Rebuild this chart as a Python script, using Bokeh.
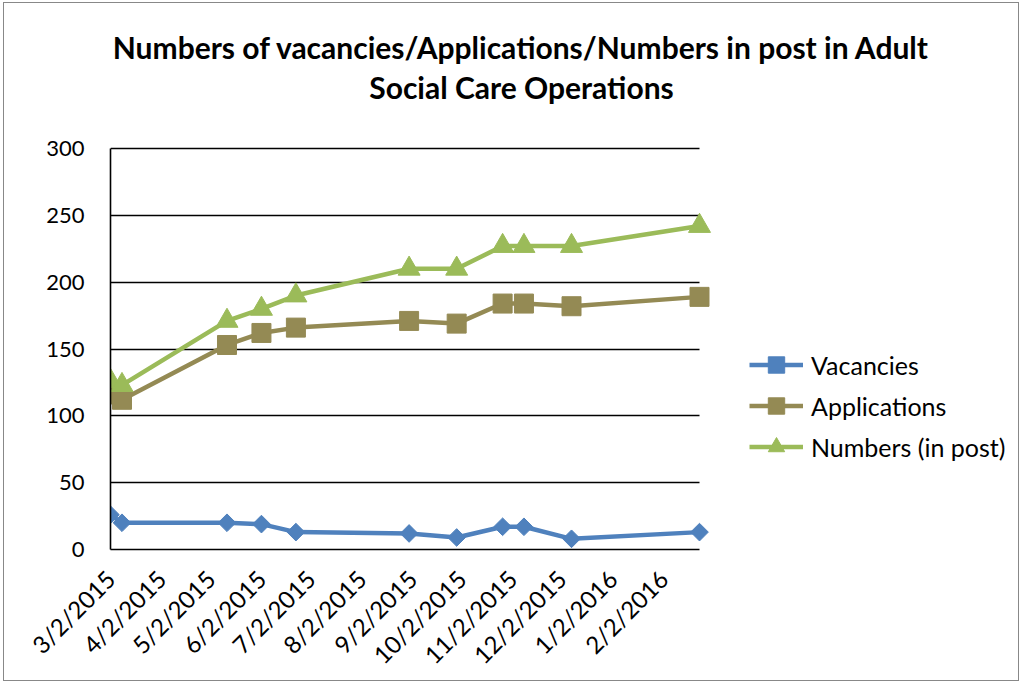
import math
import pandas as pd
from bokeh.plotting import figure
from bokeh.models import (FixedTicker, Legend, LegendItem, Label, Range1d,
                          ColumnDataSource, Grid)
from bokeh.embed import file_html
from bokeh.resources import INLINE

# ---- data ----
dates = ["2015-03-02", "2015-03-09", "2015-05-12", "2015-06-02", "2015-06-23",
         "2015-08-31", "2015-09-29", "2015-10-27", "2015-11-09", "2015-12-08",
         "2016-02-24"]
vacancies = [26, 20, 20, 19, 13, 12, 9, 17, 17, 8, 13]
applications = [116, 112, 153, 162, 166, 171, 169, 184, 184, 182, 189]
numbers_in_post = [126, 123, 171, 180, 190, 210, 210, 227, 227, 227, 242]
tick_labels = ["3/2/2015", "4/2/2015", "5/2/2015", "6/2/2015", "7/2/2015", "8/2/2015",
               "9/2/2015", "10/2/2015", "11/2/2015", "12/2/2015", "1/2/2016", "2/2/2016"]
y_ticks = [0, 50, 100, 150, 200, 250, 300]
series_names = ["Vacancies", "Applications", "Numbers (in post)"]
title_lines = ["Numbers of vacancies/Applications/Numbers in post in Adult",
               "Social Care Operations"]

FONT = "Lato"
start = pd.Timestamp(dates[0])
xdays = [(pd.Timestamp(d) - start).days for d in dates]
tick_days = [(pd.to_datetime(t, format="%m/%d/%Y") - start).days for t in tick_labels]
x_max = xdays[-1]
y_max = y_ticks[-1]

# ---- geometry (pixels inside the figure) ----
W, H = 1016, 679
PLOT_L, PLOT_R, PLOT_T, PLOT_B = 106, 695, 145, 546   # visible plot area
# the frame spans to the right and top edges so that title/legend can live in it
frame_w = W - PLOT_L
frame_h = PLOT_B
x_end = x_max * frame_w / (PLOT_R - PLOT_L)
y_end = y_max * frame_h / (PLOT_B - PLOT_T)

src = ColumnDataSource(dict(x=xdays, vac=vacancies, app=applications, num=numbers_in_post))

p = figure(width=W, height=H, output_backend="svg", toolbar_location=None,
           title=None, x_range=Range1d(0, x_end), y_range=Range1d(0, y_end),
           min_border_left=PLOT_L, min_border_right=0, min_border_top=0,
           min_border_bottom=H - PLOT_B)
p.styles = {"border": "1px solid #888888", "box-sizing": "border-box",
            "margin-left": "3px", "margin-top": "2px"}
p.outline_line_color = None
p.background_fill_color = "white"
p.border_fill_color = "white"

# axes
p.xaxis.ticker = FixedTicker(ticks=tick_days)
p.xaxis.major_label_overrides = {d: lab for d, lab in zip(tick_days, tick_labels)}
p.xaxis.major_label_orientation = math.pi / 4
p.xaxis.bounds = (0, x_max)
p.yaxis.ticker = FixedTicker(ticks=y_ticks)
p.yaxis.bounds = (0, y_max)
for ax in (p.xaxis[0], p.yaxis[0]):
    ax.axis_line_color = "black"
    ax.axis_line_width = 1.6
    ax.major_tick_line_color = None
    ax.minor_tick_line_color = None
    ax.major_tick_in = 0
    ax.major_tick_out = 0
    ax.major_label_text_font = FONT
    ax.major_label_text_color = "black"
p.yaxis.major_label_text_font_size = "22px"
p.yaxis.major_label_standoff = 26
p.xaxis.major_label_text_font_size = "24px"
p.xaxis.major_label_standoff = 25

p.xgrid.grid_line_color = None
if "cross_bounds" in Grid.properties():
    p.ygrid.ticker = FixedTicker(ticks=y_ticks)
    p.ygrid.cross_bounds = (0, x_max)
    p.ygrid.grid_line_color = "black"
    p.ygrid.grid_line_width = 1.6
else:
    p.ygrid.grid_line_color = None
    p.segment(x0=[0] * len(y_ticks), x1=[x_max] * len(y_ticks), y0=y_ticks, y1=y_ticks,
              line_color="black", line_width=1.6)

colors = ["#4F81BD", "#948A54", "#9BBB59"]
cols = ["vac", "app", "num"]
markers = [("square", 12.5, math.pi / 4), ("square", 19, 0), ("triangle", 22, 0)]
items = []
for name, col, c, (mk, sz, ang) in zip(series_names, cols, colors, markers):
    ln = p.line("x", col, source=src, line_color=c, line_width=4.5, line_join="round")
    sc = p.scatter("x", col, source=src, marker=mk, size=sz, angle=ang,
                   fill_color=c, line_color=c, line_width=1)
    items.append(LegendItem(label=name, renderers=[ln, sc]))

legend = Legend(items=items, location=(639, 82), orientation="vertical",
                glyph_width=54, glyph_height=41, label_height=41, spacing=0,
                padding=0, margin=0, label_standoff=8,
                label_text_font=FONT, label_text_font_size="25px",
                label_text_color="black",
                border_line_color=None, background_fill_alpha=0)
p.add_layout(legend, "center")

for txt, y in zip(title_lines, [PLOT_B + 2 - 45, PLOT_B + 2 - 85]):
    p.add_layout(Label(x=(520 - 3) - PLOT_L, y=y, x_units="screen", y_units="screen",
                       text=txt, text_align="center", text_baseline="alphabetic",
                       text_font=FONT, text_font_style="bold",
                       text_font_size="30px", text_color="black"))

open("out.html", "w").write(file_html(p, INLINE))
